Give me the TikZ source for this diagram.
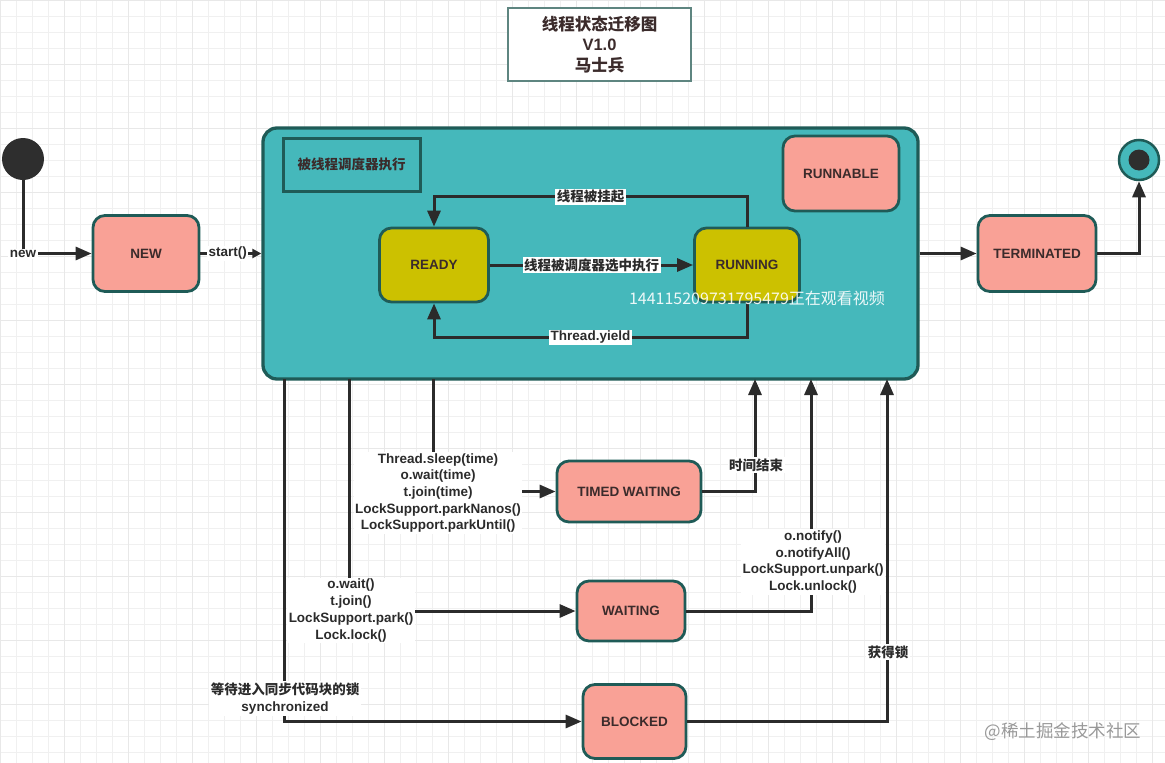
\documentclass[tikz,border=0pt]{standalone}
\usepackage{fontspec}
\setmainfont{Liberation Sans}
\newfontfamily\cjk{Noto Sans CJK SC}
\usetikzlibrary{arrows.meta}

\definecolor{edge}{HTML}{1F5B57}
\definecolor{salmon}{HTML}{F9A196}
\definecolor{olive}{HTML}{CCC100}
\definecolor{tealbg}{HTML}{45B8BB}
\definecolor{ink}{HTML}{2B2B2B}
\definecolor{boxtext}{HTML}{3B2B2B}
\definecolor{dot}{HTML}{2E2E2E}
\definecolor{titleline}{HTML}{5E8580}

\tikzset{
  gridminor/.style={draw=black!6, line width=0.5pt},
  gridmajor/.style={draw=black!9, line width=0.7pt},
  state/.style={draw=edge, line width=2.8pt, rounded corners=12pt, fill=salmon,
    text=boxtext, inner sep=0pt, font=\bfseries\fontsize{13.5}{16}\selectfont},
  busy/.style={state, fill=olive},
  flow/.style={draw=ink, line width=3pt, -{Triangle[length=16pt,width=13pt]}},
  lbl/.style={fill=white, inner sep=1.5pt, text=ink, align=center,
    font=\bfseries\fontsize{13.5}{16.7}\selectfont},
}

\begin{document}
\begin{tikzpicture}[x=1pt,y=-1pt]
  \useasboundingbox (0,0) rectangle (1165,763);
  \fill[white] (0,0) rectangle (1165,763);
  % background grid
  \foreach \g in {0,16,...,1168}
    \draw[gridminor] (\g,0) -- (\g,763);
  \foreach \g in {0,16,...,768}
    \draw[gridminor] (0,\g) -- (1165,\g);
  \foreach \g in {0,64,...,1165}
    \draw[gridmajor] (\g,0) -- (\g,763);
  \foreach \g in {0,64,...,763}
    \draw[gridmajor] (0,\g) -- (1165,\g);

  % title
  \node[draw=titleline, line width=1.2pt, fill=white, minimum width=183pt, minimum height=73pt,
        align=center, text=boxtext, font=\bfseries\fontsize{16.5}{20.5}\selectfont] (title)
        at (599.5,44.5) {{\cjk 线程状态迁移图}\\V1.0\\{\cjk 马士兵}};

  % RUNNABLE container
  \node[draw=edge, line width=3.3pt, rounded corners=14pt, fill=tealbg,
        minimum width=655pt, minimum height=251pt] (runbox) at (590.5,253.5) {};
  \node[draw=edge, line width=3pt, fill=tealbg, minimum width=137pt, minimum height=53pt,
        text=boxtext, font=\bfseries\fontsize{13.5}{16}\selectfont] (sched)
        at (351.5,164.5) {\cjk 被线程调度器执行};
  \node[state, minimum width=116pt, minimum height=75pt] (runnable) at (841,173.5) {RUNNABLE};
  \node[busy, minimum width=109pt, minimum height=74pt] (ready) at (434,265) {READY};
  \node[busy, minimum width=105pt, minimum height=74pt] (running) at (747,265) {RUNNING};

  % outer states
  \node[state, minimum width=106pt, minimum height=76pt] (new) at (146,253.5) {NEW};
  \node[state, minimum width=118pt, minimum height=76pt] (term) at (1037,253.5) {TERMINATED};
  \node[state, minimum width=144pt, minimum height=61pt] (timed) at (629,491.5) {TIMED WAITING};
  \node[state, minimum width=108pt, minimum height=60pt] (waiting) at (631,611) {WAITING};
  \node[state, minimum width=103pt, minimum height=74pt] (blocked) at (634.5,721.5) {BLOCKED};

  \node[circle, fill=dot, minimum size=42pt, inner sep=0pt] (init) at (23,159) {};
  \node[circle, draw=edge, line width=2.5pt, fill=tealbg, minimum size=40pt, inner sep=0pt] (final) at (1139,160) {};
  \node[circle, fill=dot, minimum size=21pt, inner sep=0pt] (finaldot) at (final) {};

  % inside the scheduler
  \draw[flow] (ready) -- node[lbl] (pick) {\cjk 线程被调度器选中执行} (running);
  \draw[flow] (running.north) -- ++(0,-30) -| node[pos=0.25,lbl] (suspend) {\cjk 线程被挂起} (ready.north);
  \draw[flow] (running.south) -- ++(0,34) -| node[pos=0.25,lbl] (yield) {Thread.yield} (ready.south);

  % life cycle
  \draw[flow] (init) |- (new);
  \node[lbl] (newlbl) at (23,254) {new};
  \draw[draw=ink, line width=3pt, -{Triangle[length=9pt,width=9pt]}] (new)
    -- node[lbl, pos=0.45] (startlbl) {start()} (runbox);
  \draw[flow] (runbox) -- (term);
  \draw[flow] (term) -| (final);

  % leaving and coming back to RUNNABLE
  \foreach \n/\x in {blk/284,wai/349,tim/433,tmo/755,ntf/811,lck/887}
    \coordinate (\n) at (\x,379);

  \draw[flow] (blk) |- (blocked);
  \draw[flow] (wai) |- (waiting);
  \draw[flow] (tim) |- (timed);
  \draw[flow] (timed) -| (tmo);
  \draw[flow] (waiting) -| (ntf);
  \draw[flow] (blocked) -| (lck);

  \node[lbl] (blklbl) at (285,698.5) {{\cjk 等待进入同步代码块的锁}\\synchronized};
  \node[lbl] (wailbl) at (351,610.5) {o.wait()\\t.join()\\LockSupport.park()\\Lock.lock()};
  \node[lbl] (timlbl) at (438,493) {Thread.sleep(time)\\o.wait(time)\\t.join(time)\\LockSupport.parkNanos()\\LockSupport.parkUntil()};
  \node[lbl] (tmolbl) at (756,465) {\cjk 时间结束};
  \node[lbl] (ntflbl) at (813,562) {o.notify()\\o.notifyAll()\\LockSupport.unpark()\\Lock.unlock()};
  \node[lbl] (lcklbl) at (888,652) {\cjk 获得锁};

  % overlays
  \node[text=white, opacity=0.9, font=\cjk\fontsize{16}{18}\selectfont, inner sep=0pt] (viewer)
    at (757,298) {144115209731795479正在观看视频};
  \node[text=black!40, font=\cjk\fontsize{17.5}{20}\selectfont, inner sep=0pt] (brand)
    at (1063,732) {@稀土掘金技术社区};
\end{tikzpicture}
\end{document}
